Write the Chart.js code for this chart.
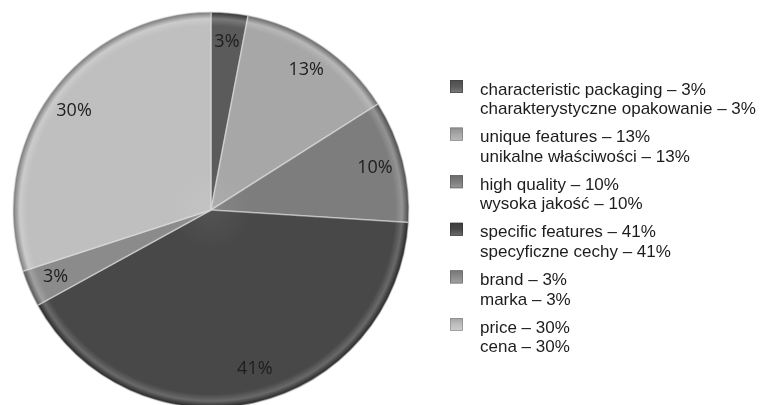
<!DOCTYPE html>
<html>
<head>
<meta charset="utf-8">
<script src="https://cdn.jsdelivr.net/npm/chart.js@4/dist/chart.umd.min.js"></script>
<style>
  html, body { margin: 0; padding: 0; background: #fff; overflow: hidden; }
  #wrap { width: 761px; height: 405px; position: relative; }
</style>
</head>
<body>
<div id="wrap"><canvas id="pie"></canvas></div>
<script>
const labelsEn = [
  "characteristic packaging",
  "unique features",
  "high quality",
  "specific features",
  "brand",
  "price",
];
const labelsPl = [
  "charakterystyczne opakowanie",
  "unikalne właściwości",
  "wysoka jakość",
  "specyficzne cechy",
  "marka",
  "cena",
];
const shares = [3, 13, 10, 41, 3, 30];
const shades = ["#5b5b5b", "#a7a7a7", "#7d7d7d", "#484848", "#8b8b8b", "#bfbfbf"];

const R = 198;

// mix a hex grey with white (amt > 0) or black (amt < 0)
function tint(hex, amt) {
  const n = parseInt(hex.slice(1), 16);
  const ch = [(n >> 16) & 255, (n >> 8) & 255, n & 255].map((c) =>
    Math.round(amt > 0 ? c + (255 - c) * amt : c * (1 + amt))
  );
  return `rgb(${ch[0]},${ch[1]},${ch[2]})`;
}

// radial fill: flat body, light rim band, dark outer edge
function sliceFill(ctx) {
  const chart = ctx.chart;
  const base = shades[ctx.dataIndex];
  const a = chart.chartArea;
  if (!a) return base;
  const cx = (a.left + a.right) / 2;
  const cy = (a.top + a.bottom) / 2;
  const g = chart.ctx.createRadialGradient(cx, cy, 0, cx, cy, R);
  g.addColorStop(0, tint(base, 0.06));
  g.addColorStop(0.2, base);
  g.addColorStop(0.93, base);
  g.addColorStop(0.965, tint(base, 0.18));
  g.addColorStop(0.99, tint(base, -0.25));
  g.addColorStop(1, tint(base, -0.4));
  return g;
}

const sliceLabels = {
  id: "sliceLabels",
  afterDatasetsDraw(chart) {
    const ctx = chart.ctx;
    const meta = chart.getDatasetMeta(0);
    ctx.save();
    ctx.font = "18px 'Open Sans', 'Noto Sans', sans-serif";
    ctx.fillStyle = "#1e1e1e";
    ctx.textAlign = "center";
    ctx.textBaseline = "middle";
    meta.data.forEach((arc, i) => {
      const { x, y, startAngle, endAngle, outerRadius } = arc.getProps(
        ["x", "y", "startAngle", "endAngle", "outerRadius"], true);
      const mid = (startAngle + endAngle) / 2 - (shares[i] > 30 ? 0.05 : 0);
      const r = outerRadius * (shares[i] > 30 ? 0.83 : 0.855);
      ctx.fillText(shares[i] + "%", x + Math.cos(mid) * r, y + Math.sin(mid) * r);
    });
    ctx.restore();
  },
};

const sideLegend = {
  id: "sideLegend",
  afterDraw(chart) {
    const ctx = chart.ctx;
    const boxX = 450, textX = 480, top = 90, step = 47.6, gap = 19.5, box = 13;
    ctx.save();
    ctx.font = "17px 'Liberation Sans', Arial, sans-serif";
    ctx.textBaseline = "middle";
    ctx.textAlign = "left";
    labelsEn.forEach((en, i) => {
      const y = top + i * step;
      const c = shades[i];
      const g = ctx.createLinearGradient(0, y - 10, 0, y - 10 + box);
      g.addColorStop(0, tint(c, -0.15));
      g.addColorStop(0.5, c);
      g.addColorStop(1, tint(c, 0.2));
      ctx.fillStyle = g;
      ctx.fillRect(boxX, y - 10, box, box);
      ctx.strokeStyle = tint(c, -0.3);
      ctx.lineWidth = 0.6;
      ctx.strokeRect(boxX + 0.3, y - 9.7, box - 0.6, box - 0.6);
      ctx.fillStyle = "#1c1c1c";
      ctx.fillText(`${en} – ${shares[i]}%`, textX, y);
      ctx.fillText(`${labelsPl[i]} – ${shares[i]}%`, textX, y + gap);
    });
    ctx.restore();
  },
};

new Chart(document.getElementById("pie"), {
  type: "pie",
  data: {
    labels: labelsEn,
    datasets: [
      {
        data: shares,
        backgroundColor: sliceFill,
        borderColor: "rgba(225,225,225,0.55)",
        borderWidth: 1.5,
        radius: R,
        clip: false,
      },
    ],
  },
  options: {
    responsive: true,
    maintainAspectRatio: false,
    animation: false,
    layout: {
      padding: { left: 13, right: 352, top: 15, bottom: 0 },
    },
    plugins: {
      legend: { display: false },
      tooltip: { enabled: false },
    },
  },
  plugins: [sliceLabels, sideLegend],
});
</script>
</body>
</html>
